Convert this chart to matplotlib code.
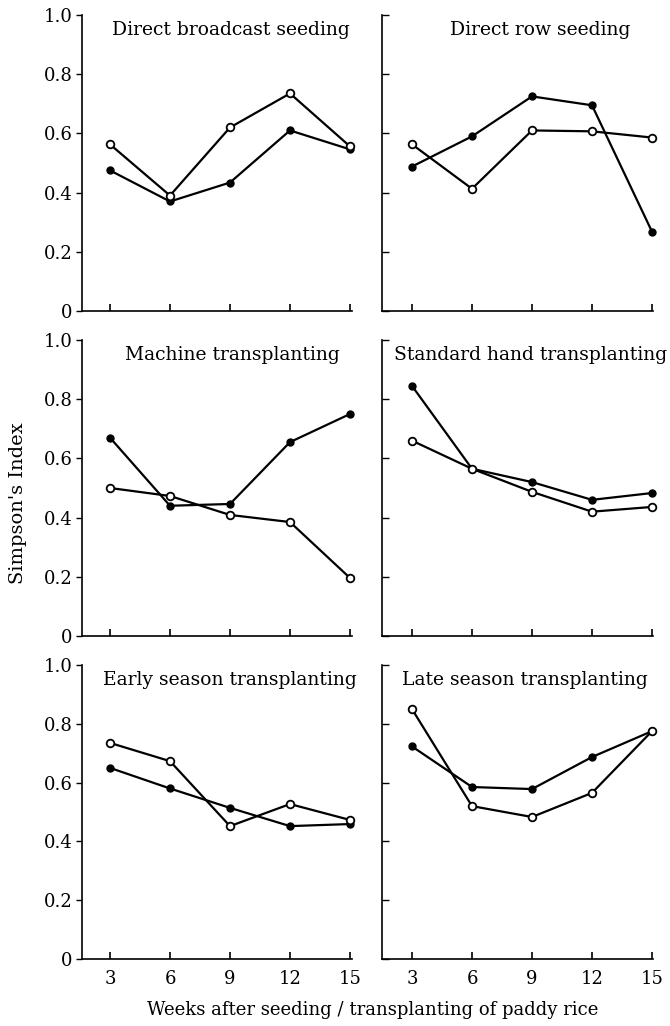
import matplotlib
matplotlib.use("Agg")
import matplotlib.pyplot as plt

plt.rcParams['font.family'] = ['DejaVu Serif']

weeks = [3, 6, 9, 12, 15]

titles = [
    "Direct broadcast seeding", "Direct row seeding",
    "Machine transplanting", "Standard hand transplanting",
    "Early season transplanting", "Late season transplanting",
]

# simpson index, filled-circle series
filled = [
    [0.475, 0.37, 0.434, 0.61, 0.546],
    [0.488, 0.59, 0.725, 0.695, 0.268],
    [0.67, 0.44, 0.446, 0.655, 0.75],
    [0.845, 0.565, 0.52, 0.46, 0.483],
    [0.65, 0.58, 0.514, 0.452, 0.459],
    [0.723, 0.585, 0.578, 0.687, 0.775],
]

# simpson index, open-circle series
hollow = [
    [0.563, 0.39, 0.62, 0.735, 0.556],
    [0.563, 0.413, 0.61, 0.607, 0.586],
    [0.5, 0.473, 0.409, 0.385, 0.196],
    [0.66, 0.565, 0.487, 0.42, 0.436],
    [0.735, 0.673, 0.452, 0.527, 0.473],
    [0.85, 0.52, 0.483, 0.565, 0.775],
]

yticks = [0, 0.2, 0.4, 0.6, 0.8, 1.0]
ytick_labels = ["0", "0.2", "0.4", "0.6", "0.8", "1.0"]

fig = plt.figure(figsize=(6.7, 10.26), dpi=100)

W, H = 670, 1026
col_left = [82, 382]
col_xlim = [(1.6, 15.1), (1.5, 15.05)]
row_top = [15, 340, 665]     # pixel y of 1.0
row_h = [296, 296, 294]
title_x = [350, 630, 340, 667, 357, 648]

for i in range(6):
    r, c = divmod(i, 2)
    xl = col_xlim[c]
    wpx = (xl[1] - xl[0]) * 20
    bottom = H - (row_top[r] + row_h[r])
    ax = fig.add_axes([col_left[c] / W, bottom / H, wpx / W, row_h[r] / H])
    ax.set_xlim(*xl)
    ax.set_ylim(0, 1.0)

    ax.plot(weeks, filled[i], color='black', lw=1.6, marker='o', ms=5,
            mfc='black', mec='black', clip_on=False, zorder=3)
    ax.plot(weeks, hollow[i], color='black', lw=1.6, marker='o', ms=5.5,
            mfc='white', mec='black', mew=1.3, clip_on=False, zorder=4)

    for s in ['top', 'right']:
        ax.spines[s].set_visible(False)
    for s in ['left', 'bottom']:
        ax.spines[s].set_linewidth(1.2)

    ax.set_xticks(weeks)
    ax.set_yticks(yticks)
    ax.tick_params(axis='x', direction='in', length=5, width=1.2, pad=8,
                   labelsize=13)
    if c == 0:
        ax.set_yticklabels(ytick_labels)
        ax.tick_params(axis='y', direction='out', length=4, width=1.0,
                       pad=3, labelsize=13)
    else:
        ax.set_yticklabels([])
        ax.tick_params(axis='y', direction='in', length=5, width=1.0)
    if r < 2:
        ax.set_xticklabels([])

    fig.text(title_x[i] / W, 1 - (row_top[r] + 15) / H, titles[i],
             ha='right', va='center', fontsize=13.5)

fig.text(18 / W, 1 - 503 / H, "Simpson's Index", rotation=90,
         ha='center', va='center', fontsize=14)
fig.text(373 / W, 1 - 1010 / H,
         "Weeks after seeding / transplanting of paddy rice",
         ha='center', va='center', fontsize=13)

fig.savefig("out.png", dpi=100)
